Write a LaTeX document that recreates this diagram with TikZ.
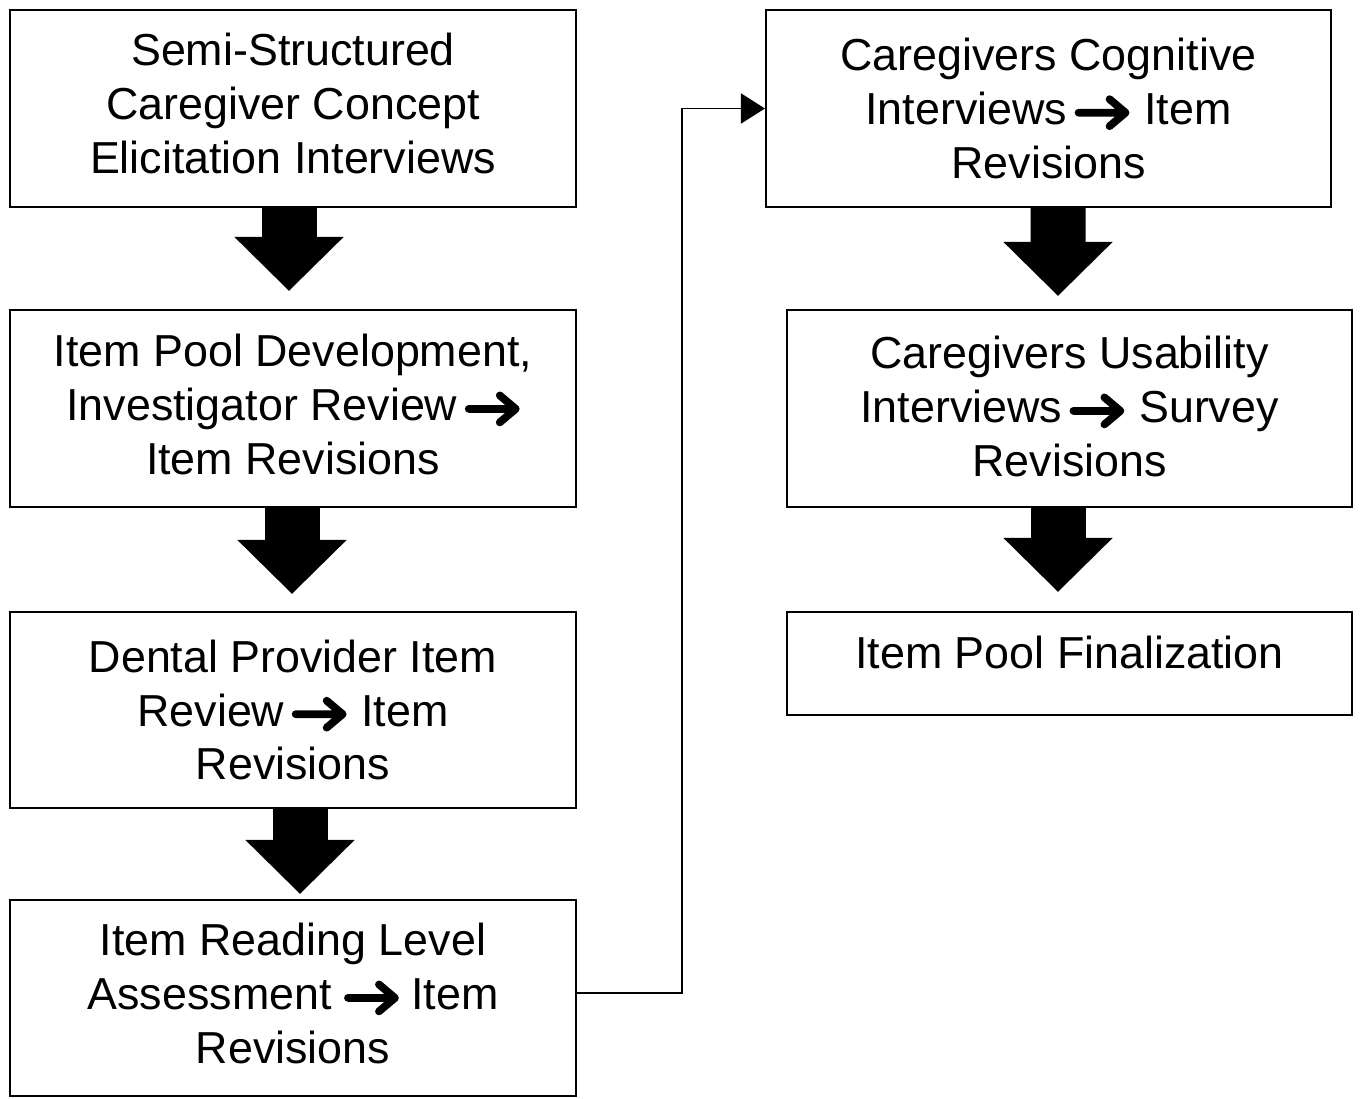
\documentclass[tikz,border=0pt]{standalone}
\usepackage{fontspec}
\setmainfont{Liberation Sans}
\usetikzlibrary{arrows.meta}

\newcommand{\itemarr}{\tikz[baseline={-0.5ex}]\draw[line width=4.4pt, line cap=round, line join=round]
  (0,0) -- (0.94,0) (0.62,0.27) -- (0.94,0) -- (0.62,-0.27);}

\begin{document}
\begin{tikzpicture}[
  stagebox/.style={draw, line width=1.2pt, minimum width=11.32cm, minimum height=3.94cm,
    align=center, inner sep=0pt, font=\fontsize{25.5}{30.6}\selectfont},
  bigarrow/.style={line width=1.1cm, -{Triangle[length=1.08cm, width=2.12cm]}},
  thinarrow/.style={line width=1.1pt, -{Triangle[length=0.48cm, width=0.6cm]}}
  ]
  \useasboundingbox (0,0) rectangle (27.2,-21.96);

  %% left column
  \node[stagebox, text depth=0.2cm] (elicit) at (5.86,-2.17) {Semi-Structured\\Caregiver Concept\\Elicitation Interviews};
  \node[stagebox, text depth=0.16cm] (pool) at (5.86,-8.17) {Item Pool Development,\\Investigator Review\,\itemarr\\Item Revisions};
  \node[stagebox, minimum height=3.92cm] (dental) at (5.86,-14.2) {Dental Provider Item\\Review\,\itemarr\,\,Item\\Revisions};
  \node[stagebox, minimum height=3.92cm, text depth=0.18cm] (reading) at (5.86,-19.96) {Item Reading Level\\Assessment \itemarr\ Item\\Revisions};

  %% right column
  \node[stagebox, minimum width=11.3cm] (cognitive) at (20.97,-2.17) {Caregivers Cognitive\\Interviews\,\itemarr\,\,Item\\Revisions};
  \node[stagebox, minimum width=11.3cm, text depth=0.08cm] (usability) at (21.39,-8.17) {Caregivers Usability\\Interviews\,\itemarr\,\,Survey\\Revisions};
  \node[stagebox, minimum width=11.3cm, minimum height=2.06cm, text depth=0.45cm] (final) at (21.39,-13.27) {Item Pool Finalization};

  %% block arrows
  \draw[bigarrow, shorten >=0.36cm] ([xshift=-0.08cm]elicit.south) -- ([xshift=-0.08cm]pool.north);
  \draw[bigarrow, shorten >=0.34cm] ([xshift=-0.02cm]pool.south) -- ([xshift=-0.02cm]dental.north);
  \draw[bigarrow, shorten >=0.1cm] ([xshift=0.14cm]dental.south) -- ([xshift=0.14cm]reading.north);
  \draw[bigarrow, shorten >=0.26cm] ([xshift=0.19cm]cognitive.south) -- ([xshift=-0.23cm]usability.north);
  \draw[bigarrow, shorten >=0.38cm] ([xshift=-0.23cm]usability.south) -- ([xshift=-0.23cm]final.north);

  %% link between columns
  \draw[thinarrow] ([yshift=0.1cm]reading.east) -- ++(2.1,0) |- (cognitive.west);

\end{tikzpicture}
\end{document}
